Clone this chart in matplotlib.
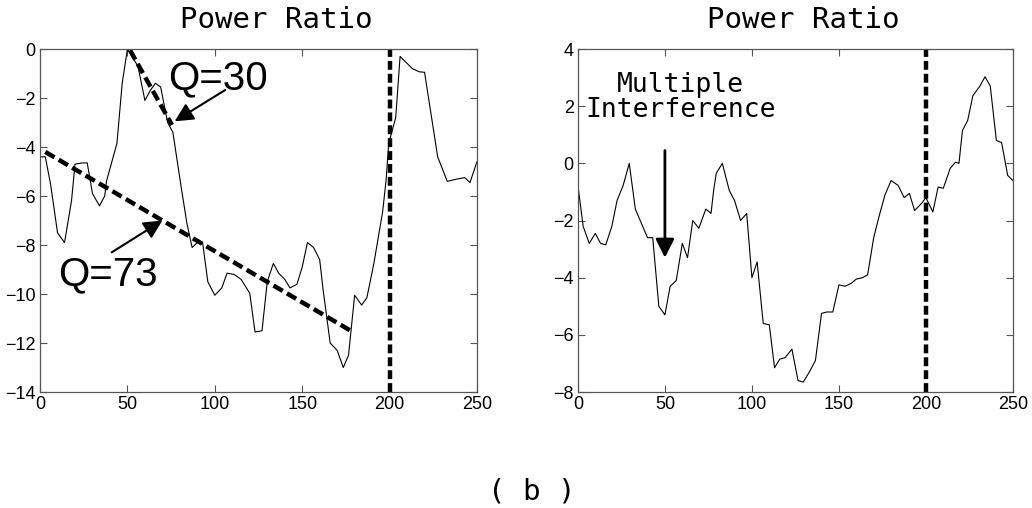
import numpy as np
import matplotlib
matplotlib.use("Agg")
import matplotlib.pyplot as plt

# left panel: power ratio with Q fits
left_x = [0, 3, 6, 10, 14, 18, 20, 24, 27, 30, 34, 37, 38, 44, 47, 50, 56, 60, 63, 66,
          69, 73, 76, 81, 84, 87, 90, 93, 96, 100, 104, 107, 111, 115, 120, 123, 127, 130, 133.5, 136.5,
          140, 143, 147, 150, 153, 156.5, 160, 162, 166, 170, 173.5, 176.5, 180, 184, 187, 191, 196, 198, 199.5, 203.5,
          206, 213, 217, 220, 227.5, 233, 239, 243, 246, 250]
left_y = [-4.4, -4.4, -5.5, -7.5, -7.9, -6.2, -4.7, -4.65, -4.65, -5.9,
          -6.4, -6.0, -5.4, -3.85, -1.4, 0.0, -0.7, -2.1, -1.7, -1.4,
          -1.55, -3.0, -3.4, -5.75, -7.1, -8.1, -7.9, -7.9, -9.5, -10.05,
          -9.75, -9.15, -9.2, -9.4, -9.97, -11.55, -11.5, -9.5, -8.75, -9.15,
          -9.4, -9.75, -9.6, -8.9, -7.9, -8.1, -8.6, -9.85, -12.0, -12.3,
          -13.0, -12.5, -10.05, -10.45, -10.15, -8.75, -6.65, -5.35, -3.85, -2.8,
          -0.3, -0.8, -0.93, -0.95, -4.4, -5.4, -5.3, -5.25, -5.45, -4.6]
q73_x = [3, 179]
q73_y = [-4.2, -11.55]
q30_x = [51.5, 75.5]
q30_y = [-0.05, -3.1]

# right panel
right_x = [0, 3, 6.5, 10, 13, 16, 19.5, 22.5, 26, 29.5, 33, 36.5, 40, 43, 46.5, 50, 53, 56.5, 60, 63,
           66, 69.5, 73.5, 76.5, 78, 79.5, 83, 87, 90, 93.5, 97, 100, 103, 106.5, 110, 113, 116, 119, 123, 126.5,
           129.5, 133, 136.5, 140, 143, 146.5, 150, 153.5, 157, 160, 163.5, 166.5, 170, 173, 176.5, 180, 184, 187.5, 190.5, 193.5,
           197.5, 200, 204, 207, 210, 214, 217, 219, 221, 224, 227, 231, 234, 237, 240.5, 243.5, 247, 250]
right_y = [-0.77, -2.2, -2.8, -2.45, -2.8, -2.85, -2.2, -1.3, -0.77, 0.0,
           -1.6, -2.1, -2.6, -2.6, -5.0, -5.3, -4.3, -4.1, -2.8, -3.3,
           -2.0, -2.27, -1.6, -1.75, -0.95, -0.35, 0.0, -0.95, -1.3, -2.0,
           -1.75, -4.0, -3.45, -5.6, -5.65, -7.15, -6.85, -6.8, -6.5, -7.6,
           -7.65, -7.3, -6.9, -5.25, -5.2, -5.2, -4.25, -4.3, -4.2, -4.05,
           -4.0, -3.9, -2.6, -1.87, -1.1, -0.6, -0.77, -1.2, -1.05, -1.65,
           -1.4, -1.2, -1.7, -0.83, -0.87, -0.17, 0.04, 0.0, 1.15, 1.5,
           2.37, 2.7, 3.03, 2.7, 0.8, 0.73, -0.42, -0.6]

x_ticks = [0, 50, 100, 150, 200, 250]
left_yticks = [0, -2, -4, -6, -8, -10, -12, -14]
right_yticks = [4, 2, 0, -2, -4, -6, -8]
title = "Power Ratio"
cut_x = 200

mono = "DejaVu Sans Mono"
plt.rcParams['font.family'] = ['Liberation Sans', 'DejaVu Sans']

fig = plt.figure(figsize=(10.32, 5.08), dpi=100)
ax1 = fig.add_axes([0.0388, 0.2283, 0.4234, 0.6752])
ax2 = fig.add_axes([0.5600, 0.2283, 0.4215, 0.6752])

for ax, yt in [(ax1, left_yticks), (ax2, right_yticks)]:
    ax.set_xlim(0, 250)
    ax.set_ylim(min(yt), max(yt))
    ax.set_xticks(x_ticks)
    ax.set_yticks(yt)
    ax.tick_params(direction='in', top=True, right=True, length=5, width=0.8,
                   labelsize=13, pad=3, color='#555555')
    for s in ax.spines.values():
        s.set_color('#555555')
        s.set_linewidth(0.9)

arrow = dict(arrowstyle='-|>', color='black', lw=1.5, mutation_scale=28,
             shrinkA=0, shrinkB=0)

ax1.plot(left_x, left_y, color='black', lw=0.8)
ax1.plot(q73_x, q73_y, color='black', lw=3.2, linestyle=(0, (2.4, 1.1)))
ax1.plot(q30_x, q30_y, color='black', lw=3.2, linestyle=(0, (2.4, 1.1)))
ax1.axvline(cut_x, color='black', lw=3.2, linestyle=(0, (2.0, 0.9)))
ax1.set_title(title, family=mono, fontsize=21, x=0.54, pad=15)

ax1.text(73.4, -1.63, "Q=30", fontsize=29, ha='left', va='baseline')
ax1.annotate("", xy=(77, -2.95), xytext=(106, -1.67), arrowprops=arrow)
ax1.text(10.3, -9.63, "Q=73", fontsize=29, ha='left', va='baseline')
ax1.annotate("", xy=(70, -7.0), xytext=(41, -8.3), arrowprops=arrow)

ax2.plot(right_x, right_y, color='black', lw=0.8)
ax2.axvline(cut_x, color='black', lw=3.2, linestyle=(0, (2.0, 0.9)))
ax2.set_title(title, family=mono, fontsize=21, x=0.517, pad=15)
ax2.text(59, 2.3, "Multiple\nInterference", family=mono, fontsize=19,
         ha='center', va='center', linespacing=0.93)
ax2.annotate("", xy=(50, -3.3), xytext=(50, 0.45),
             arrowprops=dict(arrowstyle='-|>', color='black', lw=2, mutation_scale=28,
                             shrinkA=0, shrinkB=0))

fig.text(0.515, 0.016, "( b )", family=mono, fontsize=21, ha='center', va='baseline')

fig.savefig("out.png", dpi=100)
